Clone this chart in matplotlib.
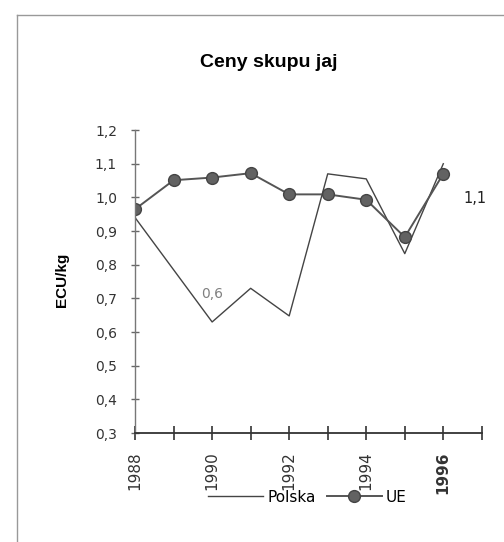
import numpy as np
import matplotlib
matplotlib.use("Agg")
import matplotlib.pyplot as plt
from matplotlib.lines import Line2D

# data
years_pl = [1988, 1990, 1991, 1992, 1993, 1994, 1995, 1996]
polska = [0.94, 0.63, 0.73, 0.648, 1.07, 1.055, 0.833, 1.10]
years_ue = [1988, 1989, 1990, 1991, 1992, 1993, 1994, 1995, 1996]
ue = [0.965, 1.051, 1.059, 1.072, 1.009, 1.009, 0.993, 0.882, 1.07]
xticks = [1988, 1989, 1990, 1991, 1992, 1993, 1994, 1995, 1996, 1997]
xlabels = ["1988", "", "1990", "", "1992", "", "1994", "", "1996", ""]
yticks = [0.3, 0.4, 0.5, 0.6, 0.7, 0.8, 0.9, 1.0, 1.1, 1.2]
ylabels = ["0,3", "0,4", "0,5", "0,6", "0,7", "0,8", "0,9", "1,0", "1,1", "1,2"]

plt.rcParams["font.family"] = ["Liberation Sans", "DejaVu Sans"]
wide = ["DejaVu Sans"]

fig = plt.figure(figsize=(5.04, 5.42), dpi=100)
ax = fig.add_axes([0.268, 0.201, 0.688, 0.559])

ax.plot(years_pl, polska, color="#444444", lw=1.0, label="Polska")
ax.plot(years_ue, ue, color="#555555", lw=1.4, marker="o", ms=8.5,
        markerfacecolor="#626262", markeredgecolor="#444444", label="UE")

ax.text(1990.0, 0.712, "0,6", color="#808080", fontsize=10, family=wide,
        ha="center", va="center")
ax.text(1996.83, 0.997, "1,1", color="#222222", fontsize=10.5, family=wide,
        ha="center", va="center", clip_on=False)

ax.set_xlim(1988, 1997)
ax.set_ylim(0.3, 1.2)
ax.set_xticks(xticks)
ax.set_xticklabels(xlabels, rotation=90, fontsize=11, color="#333333", family=wide)
ax.get_xticklabels()[8].set_fontweight("bold")
ax.set_yticks(yticks)
ax.set_yticklabels(ylabels, fontsize=10, color="#333333", family=wide)
ax.tick_params(axis="x", direction="inout", length=10, width=1.2, pad=8, color="#333333")
ax.tick_params(axis="y", direction="inout", length=6, width=1.0, pad=10, color="#666666")

for s in ["top", "right"]:
    ax.spines[s].set_visible(False)
ax.spines["bottom"].set_color("#333333")
ax.spines["bottom"].set_linewidth(1.3)
ax.spines["left"].set_color("#777777")
ax.spines["left"].set_linewidth(1.0)

ax.set_ylabel("ECU/kg", fontsize=11, fontweight="bold")
ax.yaxis.set_label_coords(-0.19, 0.505)

fig.text(0.534, 0.885, "Ceny skupu jaj", fontsize=14, fontweight="bold",
         ha="center", va="center")

ax.legend(loc="center", bbox_to_anchor=(0.61, 0.083), bbox_transform=fig.transFigure,
          ncol=2, frameon=False, prop={"family": wide, "size": 11},
          handlelength=3.6, columnspacing=0.7, handletextpad=0.3)

# page frame
fig.add_artist(Line2D([0.034, 0.034], [0.0, 0.972], color="#999999", lw=1.0))
fig.add_artist(Line2D([0.034, 1.0], [0.972, 0.972], color="#999999", lw=1.0))

fig.savefig("out.png", dpi=100)
